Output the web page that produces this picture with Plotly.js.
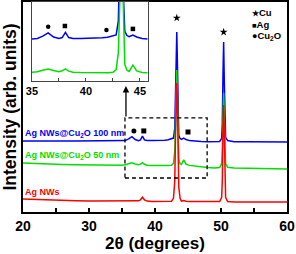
<!DOCTYPE html>
<html><head><meta charset="utf-8">
<script src="https://cdn.plot.ly/plotly-3.0.1.min.js"></script>
<style>html,body{margin:0;padding:0;background:#fff}#chart{width:296px;height:254px}</style>
</head><body><div id="chart"></div>
<script>
// 2-theta grid (degrees)
const twoTheta = [20,22,24,26,28,30,32,34,35,35.5,36,36.5,37,37.5,37.8,38.1,38.4,38.8,39.5,40.5,41.5,42,42.5,42.8,43.0,43.1,43.2,43.3,43.4,43.5,43.6,43.8,44.0,44.35,44.7,45.2,45.7,46,47,48,49,49.8,50.1,50.2,50.3,50.4,50.5,50.6,50.7,51,52,54,56,58,60];
// Intensities (arb. units, already stacked as plotted)
const agCu2O100 = [33.8,33.9,33.8,33.8,33.8,33.8,33.7,33.8,33.8,34.0,34.8,35.9,34.5,34.0,34.3,36.1,34.3,34.0,34.0,34.0,34.2,34.4,34.8,35.2,40,52,75,85.7,70,46,36.5,35.0,34.6,35.2,34.5,34.0,33.8,33.8,33.6,33.5,33.5,33.6,35,42,65,81,62,40,35.5,34.0,33.5,33.4,33.3,33.3,33.3];
const agCu2O50 = [23.3,23.0,22.8,22.6,22.5,22.4,22.3,22.3,22.3,22.5,23.0,23.4,22.9,22.5,22.8,23.5,22.7,22.3,22.2,22.1,22.1,22.1,22.3,23.2,29,42,60,67.6,55,35,25,23.0,22.6,24.8,22.8,22.2,22.1,22.0,21.5,21.2,21.0,21.2,23,30,48,56.7,45,28,23,21.3,20.9,20.8,20.6,20.5,20.5];
const agNWs = [6.2,5.9,5.6,5.4,5.3,5.2,5.2,5.1,5.1,5.1,5.2,5.2,5.2,5.3,5.8,7.0,5.8,5.2,5.0,5.0,5.0,5.0,5.1,6.5,15,35,55,61.4,52,30,12,6.5,5.2,5.5,5.1,5.0,5.0,4.9,4.9,4.8,4.8,5.0,7,15,40,51,38,14,7,5.0,4.8,4.8,4.8,4.8,4.8];
const seriesNames = ['Ag NWs@Cu<sub>2</sub>O 100 nm','Ag NWs@Cu<sub>2</sub>O 50 nm','Ag NWs'];
const seriesColors = ['#0000ff','#00e000','#ff0000'];
const seriesLabelY = [37.5,27.1,9.7];
// phase markers
const cuStarX = [43.3,50.4], cuStarY = [92.4,85.7];
const mainCu2OX = [36.8], mainCu2OY = [38.6];
const mainAgX = [38.3,45.0], mainAgY = [38.6,38.1];
const insetCu2OX = [36.5,41.9], insetCu2OY = [38.0,36.9];
const insetAgX = [38.05,44.35], insetAgY = [38.3,37.3];
const xTicks = [20,30,40,50,60];
const insetTicks = [35,40,45];
const insetRange = [35,45.75];
const zoomBox = {x0:35.45,x1:47.9,y0:16.2,y1:44.8};

const FONT = 'Liberation Sans, Arial, sans-serif';
const ys = [agCu2O100, agCu2O50, agNWs];
const traces = [];
ys.forEach((y,i)=>{
  traces.push({x:twoTheta,y:y,type:'scatter',mode:'lines',line:{color:seriesColors[i],width:1.5},xaxis:'x',yaxis:'y',hoverinfo:'skip'});
});
// inset: the two coated samples, restricted to the inset window
const win = twoTheta.map((t,k)=>k).filter(k=>twoTheta[k]>=insetRange[0] && twoTheta[k]<=insetRange[1]);
[0,1].forEach(i=>{
  traces.push({x:win.map(k=>twoTheta[k]),y:win.map(k=>ys[i][k]),type:'scatter',mode:'lines',line:{color:seriesColors[i],width:1.5},xaxis:'x2',yaxis:'y2',hoverinfo:'skip'});
});
traces.push({x:cuStarX,y:cuStarY,mode:'markers',marker:{symbol:'star',size:6,color:'#000',line:{width:0}},xaxis:'x',yaxis:'y'});
traces.push({x:mainCu2OX,y:mainCu2OY,mode:'markers',marker:{symbol:'circle',size:5,color:'#000'},xaxis:'x',yaxis:'y'});
traces.push({x:mainAgX,y:mainAgY,mode:'markers',marker:{symbol:'square',size:5,color:'#000'},xaxis:'x',yaxis:'y'});
traces.push({x:insetCu2OX,y:insetCu2OY,mode:'markers',marker:{symbol:'circle',size:4.5,color:'#000'},xaxis:'x2',yaxis:'y2'});
traces.push({x:insetAgX,y:insetAgY,mode:'markers',marker:{symbol:'square',size:4.5,color:'#000'},xaxis:'x2',yaxis:'y2'});

const annotations = [];
seriesNames.forEach((t,i)=>{
  annotations.push({xref:'paper',yref:'y',x:0.004,y:seriesLabelY[i],xanchor:'left',yanchor:'middle',text:t,showarrow:false,font:{family:FONT,size:9,color:seriesColors[i],weight:'bold'},borderpad:0});
});
const legendItems = [['<span style="font-size:7.5px">★</span>Cu',0.952],['<span style="font-size:7.5px">■</span>Ag',0.892],['<span style="font-size:9px">●</span>Cu<sub>2</sub>O',0.837]];
legendItems.forEach(it=>{
  annotations.push({xref:'paper',yref:'paper',x:0.865,y:it[1],xanchor:'left',yanchor:'middle',text:it[0],showarrow:false,font:{family:FONT,size:9.5,color:'#000',weight:'bold'},borderpad:0});
});
annotations.push({xref:'x',yref:'y',x:zoomBox.x0+0.15,y:60,axref:'x',ayref:'y',ax:zoomBox.x0+0.15,ay:zoomBox.y1,text:'',showarrow:true,arrowhead:2,arrowsize:1,arrowwidth:1.3,arrowcolor:'#000'});

const layout = {
  width:296,height:254,
  margin:{l:23,r:9,t:2,b:42},
  paper_bgcolor:'#fff',plot_bgcolor:'#fff',
  showlegend:false,
  font:{family:FONT,color:'#000'},
  xaxis:{range:[20,60],tickvals:xTicks,ticks:'inside',ticklen:4,tickwidth:1.3,tickcolor:'#000',
    minor:{dtick:5,ticks:'inside',ticklen:4,tickwidth:1.3,tickcolor:'#000'},
    showline:true,mirror:true,linecolor:'#000',linewidth:2,showgrid:false,zeroline:false,
    tickfont:{family:FONT,size:14,weight:'bold'},
    title:{text:'2θ (degrees)',font:{family:FONT,size:17,weight:'bold'},standoff:4}},
  yaxis:{range:[0,100],showticklabels:false,ticks:'',showline:true,mirror:true,linecolor:'#000',linewidth:2,showgrid:false,zeroline:false,
    title:{text:'Intensity (arb. units)',font:{family:FONT,size:17.5,weight:'bold'},standoff:2}},
  xaxis2:{domain:[0.034,0.4735],anchor:'y2',range:insetRange,tickvals:insetTicks,ticks:'inside',ticklen:3,tickcolor:'#444',
    minor:{dtick:2.5,ticks:'inside',ticklen:3,tickcolor:'#444'},
    showline:true,mirror:true,linecolor:'#444',linewidth:1,showgrid:false,zeroline:false,
    tickfont:{family:FONT,size:11,weight:'bold'}},
  yaxis2:{domain:[0.624,1],anchor:'x2',range:[19.3,46.6],showticklabels:false,ticks:'',showline:true,mirror:true,linecolor:'#444',linewidth:1,showgrid:false,zeroline:false},
  shapes:[{type:'rect',xref:'x',yref:'y',x0:zoomBox.x0,x1:zoomBox.x1,y0:zoomBox.y0,y1:zoomBox.y1,line:{color:'#000',width:1.3,dash:'4px,3px'}}],
  annotations:annotations
};
Plotly.newPlot('chart',traces,layout,{staticPlot:true,displayModeBar:false});
</script></body></html>
